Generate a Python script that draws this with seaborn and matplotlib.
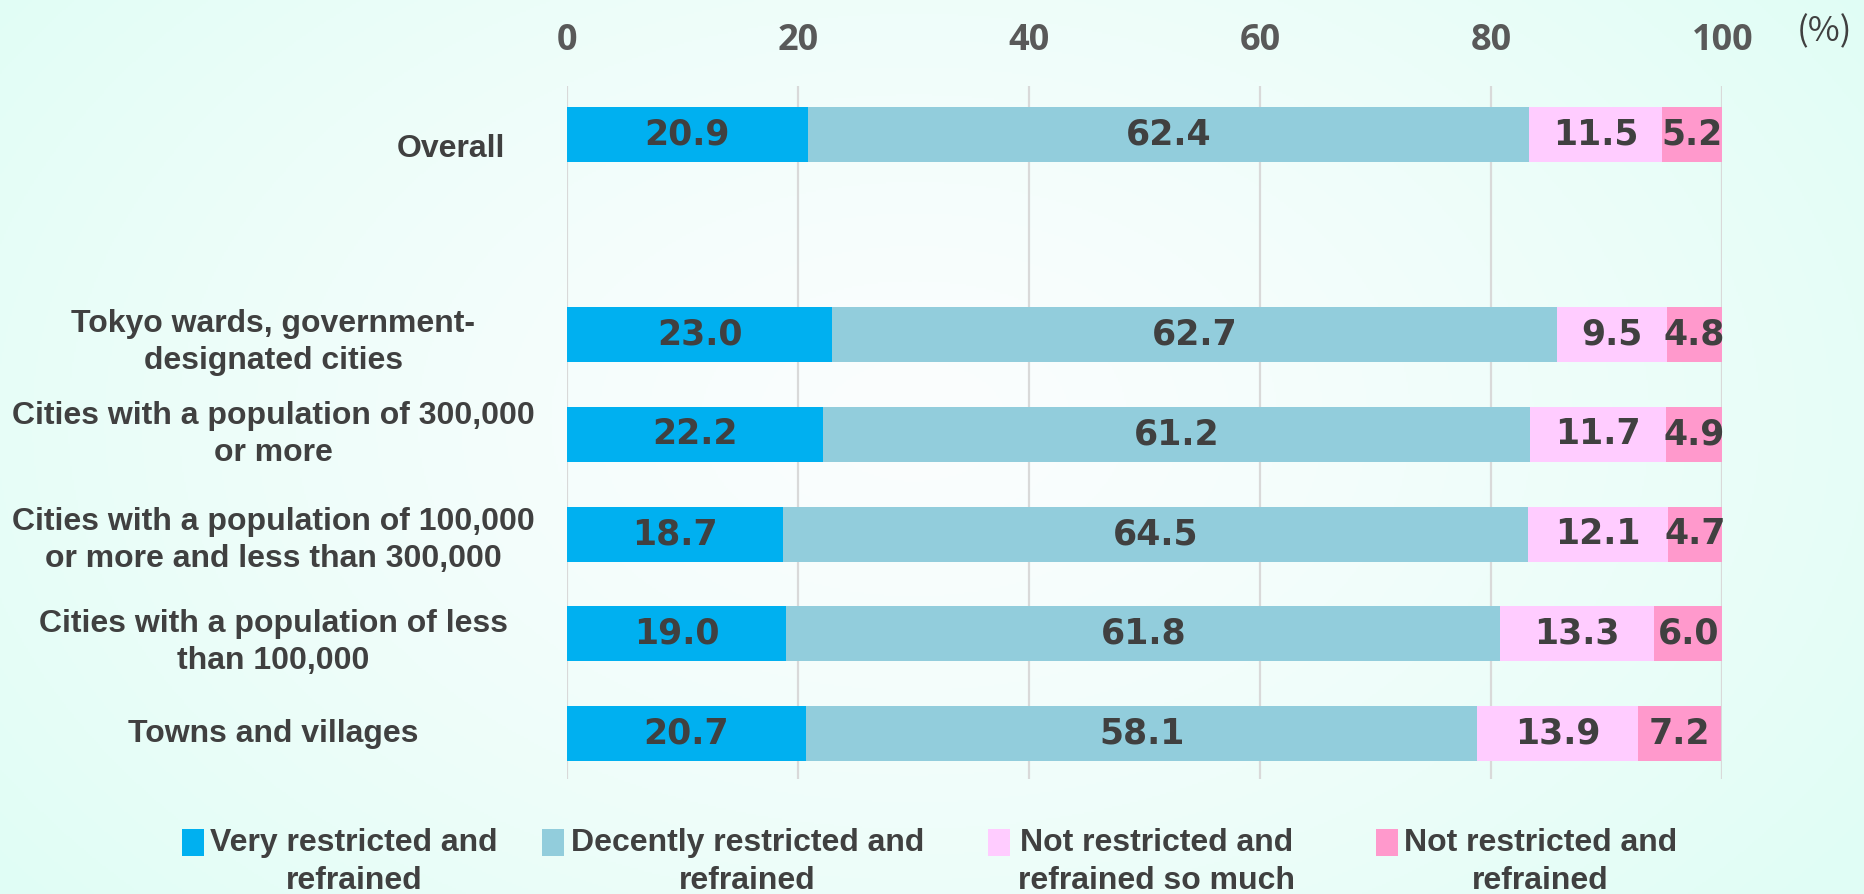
import numpy as np
import pandas as pd
import matplotlib
matplotlib.use("Agg")
import matplotlib.pyplot as plt
import seaborn as sns

# ---- data ----
categories = [
    "Overall",
    "",
    "Tokyo wards, government-\ndesignated cities",
    "Cities with a population of 300,000\nor more",
    "Cities with a population of 100,000\nor more and less than 300,000",
    "Cities with a population of less\nthan 100,000",
    "Towns and villages",
]
series_names = [
    "Very restricted and\nrefrained",
    "Decently restricted and\nrefrained",
    "Not restricted and\nrefrained so much",
    "Not restricted and\nrefrained",
]
very_restricted = [20.9, None, 23.0, 22.2, 18.7, 19.0, 20.7]
decently_restricted = [62.4, None, 62.7, 61.2, 64.5, 61.8, 58.1]
not_so_much = [11.5, None, 9.5, 11.7, 12.1, 13.3, 13.9]
not_restricted = [5.2, None, 4.8, 4.9, 4.7, 6.0, 7.2]
x_ticks = [0, 20, 40, 60, 80, 100]

colors = ["#00B0F0", "#92CDDC", "#FFCCFF", "#FF99CC"]

series = [very_restricted, decently_restricted, not_so_much, not_restricted]

# ---- figure & gradient background ----
sns.set_style("white")
fig = plt.figure(figsize=(18.64, 8.94), dpi=100)

bg = fig.add_axes([0, 0, 1, 1], zorder=-10)
h, w = 447, 932
yy, xx = np.mgrid[0:h, 0:w]
cx, cy = w * 0.49, h * 0.47
r = np.sqrt(((xx - cx) / (w * 0.62)) ** 2 + ((yy - cy) / (h * 0.85)) ** 2)
t = np.clip(r, 0, 1) ** 1.3
inner = np.array([251, 254, 254]) / 255
outer = np.array([224, 253, 245]) / 255
img = inner[None, None, :] * (1 - t[..., None]) + outer[None, None, :] * t[..., None]
bg.imshow(img, aspect="auto", extent=[0, 1, 0, 1], origin="upper")
bg.set_axis_off()

ax = fig.add_axes([0.304, 0.129, 0.620, 0.775])
ax.set_facecolor("none")

# ---- stacked bars: cumulative totals drawn from widest to narrowest ----
frame = pd.DataFrame({"category": categories})
cum = np.zeros(len(categories))
cums = []
for s in series:
    vals = np.array([np.nan if v is None else v for v in s], dtype=float)
    left = cum.copy()
    cum = cum + np.nan_to_num(vals)
    cums.append((left, vals, cum.copy()))

for i in range(len(series) - 1, -1, -1):
    left, vals, right = cums[i]
    d = frame.copy()
    d["total"] = np.where(np.isnan(vals), np.nan, right)
    sns.barplot(data=d, x="total", y="category", order=categories,
                color=colors[i], saturation=1, width=0.55, orient="h",
                edgecolor="none", linewidth=0, ax=ax, zorder=3, errorbar=None)

# ---- value labels ----
for i, (left, vals, right) in enumerate(cums):
    for j, v in enumerate(vals):
        if np.isnan(v):
            continue
        ax.text(left[j] + v / 2, j, f"{v:.1f}", ha="center", va="center",
                fontsize=25, fontweight="bold", color="#404040",
                family="DejaVu Sans", zorder=5)

# ---- axes styling ----
ax.set_xlim(0, 100)
ax.set_ylim(6.45, -0.49)
ax.set_xticks(x_ticks)
ax.xaxis.tick_top()
ax.tick_params(axis="x", length=0, pad=19)
for lbl in ax.get_xticklabels():
    lbl.set_fontsize(26)
    lbl.set_fontweight("bold")
    lbl.set_color("#595959")
    lbl.set_family("Open Sans")
ax.set_xlabel("")
ax.set_ylabel("")
ax.set_yticks([])
for sp in ax.spines.values():
    sp.set_visible(False)
ax.grid(axis="x", color="#D9D9D9", linewidth=1.6, zorder=0)
ax.set_axisbelow(True)

# ---- category labels (text boxes sit slightly below their bars) ----
label_nudge = [0.14, 0, 0.08, 0.0, 0.06, 0.09, 0.0]
for j, name in enumerate(categories):
    if not name:
        continue
    xpos = -0.1 if name == "Overall" else -0.2537
    ax.text(xpos, j + label_nudge[j], name, transform=ax.get_yaxis_transform(),
            ha="center", va="center", multialignment="center",
            fontsize=23, fontweight="bold", color="#404040",
            family="Liberation Sans", linespacing=1.31)

fig.text(1825 / 1864, 1 - 32 / 894, "(%)", ha="center", va="center",
         fontsize=25, color="#404040", family="Noto Sans CJK JP")

# ---- legend ----
sq_left = [182, 542, 988, 1376]
txt_left = [210, 571, 1018, 1404]
for name, c, sx, tx in zip(series_names, colors, sq_left, txt_left):
    fig.patches.append(plt.Rectangle((sx / 1864, 1 - 856 / 894), 22 / 1864, 27 / 894,
                                     transform=fig.transFigure, facecolor=c,
                                     edgecolor="none"))
    fig.text(tx / 1864, 1 - 862 / 894, name, ha="left", va="center",
             multialignment="center", fontsize=23, fontweight="bold",
             color="#404040", family="Liberation Sans", linespacing=1.34)

fig.savefig("out.png", dpi=100)
